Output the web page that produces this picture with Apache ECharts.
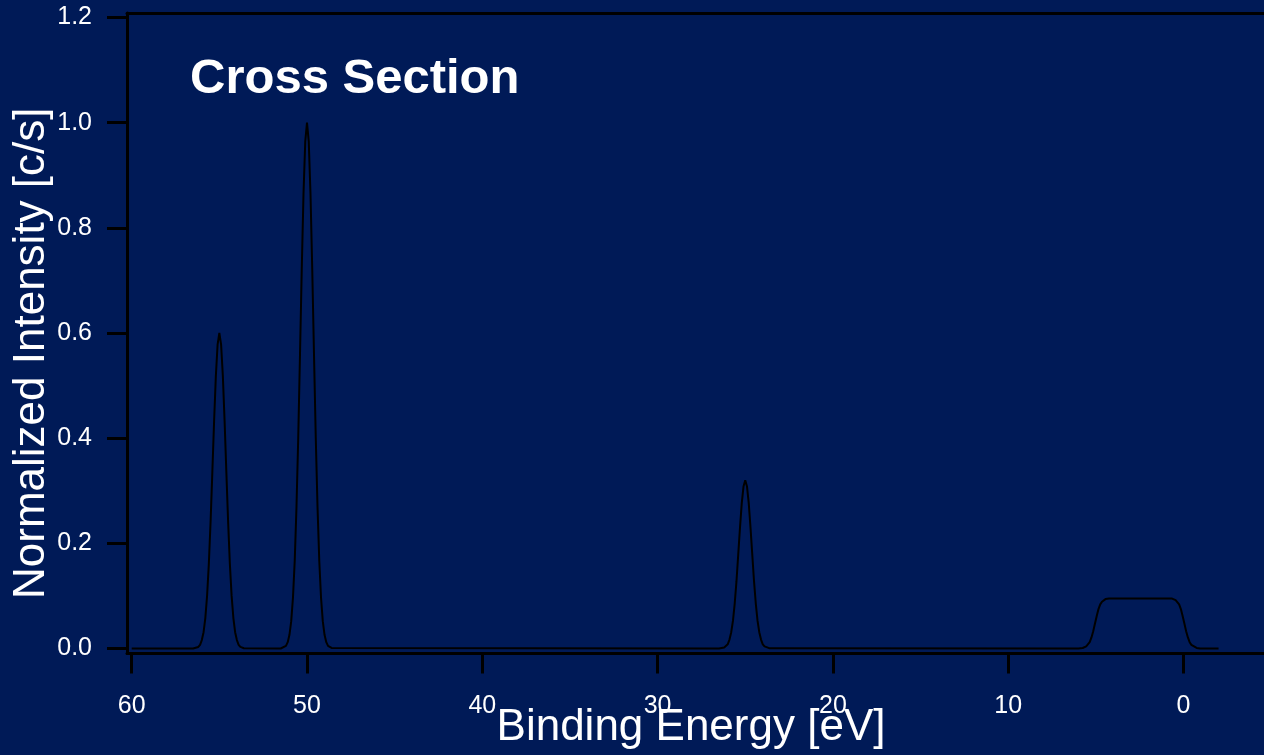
<!DOCTYPE html>
<html>
<head>
<meta charset="utf-8">
<script src="https://cdn.jsdelivr.net/npm/echarts@6/dist/echarts.min.js"></script>
<style>
html,body{margin:0;padding:0;background:#001a57;}
#chart{width:1264px;height:755px;}
</style>
</head>
<body>
<div id="chart"></div>
<script>
// ---- data (Binding Energy [eV], Normalized Intensity) ----
const baseLeftE = [60.0, 56.5];
const baseLeftI = [0, 0];

const peak55E = [56.4, 56.2, 56.1, 56.0, 55.9, 55.8, 55.7, 55.6, 55.5, 55.4, 55.3, 55.2, 55.1, 55.0,
                 54.9, 54.8, 54.7, 54.6, 54.5, 54.4, 54.3, 54.2, 54.1, 54.0, 53.9, 53.8, 53.6, 53.5];
const peak55I = [0.0005, 0.003, 0.007, 0.016, 0.031, 0.058, 0.100, 0.161, 0.241, 0.335, 0.432, 0.518, 0.578, 0.600,
                 0.578, 0.518, 0.432, 0.335, 0.241, 0.161, 0.100, 0.058, 0.031, 0.016, 0.007, 0.003, 0.0005, 0];

const peak50E = [51.5, 51.4, 51.2, 51.1, 51.0, 50.9, 50.8, 50.7, 50.6, 50.5, 50.4, 50.3, 50.2, 50.1, 50.0,
                 49.9, 49.8, 49.7, 49.6, 49.5, 49.4, 49.3, 49.2, 49.1, 49.0, 48.9, 48.8, 48.6, 48.5];
const peak50I = [0, 0.001, 0.005, 0.012, 0.026, 0.052, 0.097, 0.167, 0.269, 0.401, 0.558, 0.720, 0.864, 0.964, 1.000,
                 0.964, 0.864, 0.720, 0.558, 0.401, 0.269, 0.167, 0.097, 0.052, 0.026, 0.012, 0.005, 0.001, 0];

const peak25E = [26.5, 26.4, 26.2, 26.1, 26.0, 25.9, 25.8, 25.7, 25.6, 25.5, 25.4, 25.3, 25.2, 25.1, 25.0,
                 24.9, 24.8, 24.7, 24.6, 24.5, 24.4, 24.3, 24.2, 24.1, 24.0, 23.9, 23.8, 23.6, 23.5];
const peak25I = [0, 0.0003, 0.002, 0.004, 0.008, 0.017, 0.031, 0.053, 0.086, 0.128, 0.179, 0.230, 0.276, 0.308, 0.320,
                 0.308, 0.276, 0.230, 0.179, 0.128, 0.086, 0.053, 0.031, 0.017, 0.008, 0.004, 0.002, 0.0003, 0];

const bandE = [6.0, 5.75, 5.55, 5.45, 5.35, 5.25, 5.15, 5.05, 4.95, 4.85, 4.75, 4.65, 4.55, 4.45, 4.25,
               0.65, 0.55, 0.45, 0.35, 0.25, 0.15, 0.05, -0.05, -0.15, -0.25, -0.35, -0.45, -0.55, -0.75, -0.95, -2.0];
const bandI = [0, 0.001, 0.004, 0.007, 0.012, 0.021, 0.033, 0.0475, 0.062, 0.075, 0.084, 0.089, 0.092, 0.094, 0.095,
               0.095, 0.094, 0.092, 0.089, 0.084, 0.075, 0.062, 0.0475, 0.033, 0.021, 0.012, 0.007, 0.004, 0.001, 0, 0];

const xTicks = [60, 50, 40, 30, 20, 10, 0];
const yTicks = [0, 0.2, 0.4, 0.6, 0.8, 1.0, 1.2];

const energies = [].concat(baseLeftE, peak55E, peak50E, peak25E, bandE);
const intensities = [].concat(baseLeftI, peak55I, peak50I, peak25I, bandI);
const seriesData = energies.map((e, i) => [e, intensities[i]]);

const FONT = '"Liberation Sans", Arial, Helvetica, sans-serif';
const chart = echarts.init(document.getElementById('chart'), null, {renderer: 'canvas'});

const xMin = -4.592, xMax = 60.268;
const yMin = -0.0095, yMax = 1.2086;

chart.setOption({
  backgroundColor: '#001a57',
  animation: false,
  grid: {left: 127, right: 0, top: 13, bottom: 101.5, containLabel: false, outerBoundsMode: 'none'},
  graphic: [{
    type: 'text', x: 190, y: 79,
    style: {text: 'Cross Section', fill: '#ffffff', font: 'bold 49px ' + FONT, align: 'left', verticalAlign: 'middle'}
  }],
  xAxis: [{
    type: 'value', inverse: true, min: xMin, max: xMax, position: 'bottom',
    name: 'Binding Energy [eV]', nameLocation: 'middle', nameGap: 74.5, nameMoveOverlap: false,
    nameTextStyle: {color: '#ffffff', fontSize: 44, fontFamily: FONT, verticalAlign: 'middle', padding: [0, 9, 0, 0]},
    axisLine: {show: true, onZero: false, lineStyle: {color: '#000000', width: 3}},
    axisTick: {show: true, inside: false, length: 20, customValues: xTicks, lineStyle: {color: '#000000', width: 3}},
    axisLabel: {show: true, margin: 40, customValues: xTicks, color: '#ffffff', fontSize: 25, fontFamily: FONT,
                formatter: v => String(Math.round(v))},
    splitLine: {show: false}
  }, {
    type: 'value', inverse: true, min: xMin, max: xMax, position: 'top',
    axisLine: {show: true, onZero: false, lineStyle: {color: '#000000', width: 3}},
    axisTick: {show: false}, axisLabel: {show: false}, splitLine: {show: false}
  }],
  yAxis: {
    type: 'value', min: yMin, max: yMax,
    name: 'Normalized Intensity [c/s]', nameLocation: 'middle', nameRotate: 90, nameGap: 95.5, nameMoveOverlap: false,
    nameTextStyle: {color: '#ffffff', fontSize: 44, fontFamily: FONT, verticalAlign: 'middle', padding: [0, 40, 0, 0]},
    axisLine: {show: true, onZero: false, lineStyle: {color: '#000000', width: 3}},
    axisTick: {show: true, inside: false, length: 20, customValues: yTicks, lineStyle: {color: '#000000', width: 3}},
    axisLabel: {show: true, margin: 35, customValues: yTicks, color: '#ffffff', fontSize: 25, fontFamily: FONT,
                formatter: v => v.toFixed(1)},
    splitLine: {show: false}
  },
  series: [{
    type: 'line', data: seriesData, xAxisIndex: 0, yAxisIndex: 0,
    showSymbol: false, symbol: 'none', smooth: false,
    lineStyle: {color: '#000000', width: 2}
  }]
});
</script>
</body>
</html>
